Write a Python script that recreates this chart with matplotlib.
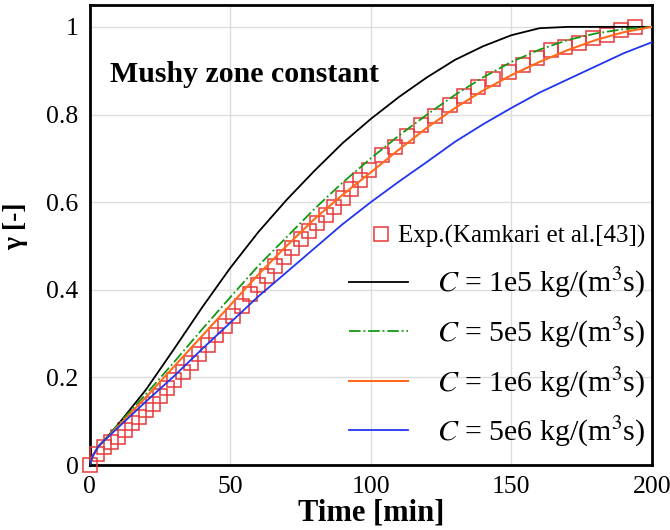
import matplotlib
matplotlib.use('Agg')
import matplotlib.pyplot as plt

plt.rcParams['font.family'] = ['Liberation Serif', 'DejaVu Serif']
plt.rcParams['mathtext.fontset'] = 'stix'

# simulation curves, time in min
t_sim = [0, 1, 3, 5, 10, 20, 30, 40, 50, 60, 70, 80, 90, 100, 110, 120, 130,
         140, 150, 160, 170, 180, 190, 200]
y_c1e5 = [0, 0.02, 0.042, 0.055, 0.092, 0.172, 0.265, 0.36, 0.45, 0.532, 0.605,
          0.672, 0.735, 0.79, 0.84, 0.885, 0.925, 0.956, 0.981, 0.997, 1.0, 1.0,
          1.0, 1.0]
y_c5e5 = [0, 0.02, 0.042, 0.056, 0.092, 0.162, 0.235, 0.31, 0.383, 0.455, 0.52,
          0.585, 0.645, 0.70, 0.752, 0.80, 0.845, 0.885, 0.92, 0.948, 0.97,
          0.985, 0.995, 1.0]
y_c1e6 = [0, 0.02, 0.042, 0.055, 0.088, 0.155, 0.225, 0.295, 0.365, 0.435, 0.50,
          0.562, 0.617, 0.668, 0.72, 0.77, 0.815, 0.855, 0.89, 0.92, 0.947,
          0.97, 0.988, 1.0]
y_c5e6 = [0, 0.02, 0.042, 0.055, 0.085, 0.145, 0.203, 0.265, 0.325, 0.385, 0.44,
          0.495, 0.55, 0.60, 0.647, 0.692, 0.738, 0.778, 0.815, 0.85, 0.88,
          0.91, 0.94, 0.965]

# experiment (Kamkari et al.)
t_exp = [0, 2.5, 5, 7.5, 10, 12.5, 15, 17.5, 20, 22.5, 25, 27.5, 30, 33, 36, 39,
         42, 45, 48, 51, 54, 57, 60, 63, 66, 69, 72, 75, 78, 81, 84, 87, 90, 93,
         96, 99.5, 104, 108.5, 113, 118, 123, 128, 133, 138, 143.5, 149, 154,
         159, 164, 169, 174, 179, 184, 189, 194]
y_exp = [0, 0.025, 0.04, 0.052, 0.065, 0.08, 0.095, 0.11, 0.125, 0.14, 0.157,
         0.175, 0.193, 0.213, 0.233, 0.254, 0.275, 0.296, 0.318, 0.34, 0.364,
         0.39, 0.41, 0.432, 0.455, 0.475, 0.495, 0.515, 0.533, 0.552, 0.571,
         0.59, 0.61, 0.63, 0.65, 0.674, 0.708, 0.725, 0.75, 0.777, 0.797, 0.822,
         0.843, 0.862, 0.88, 0.898, 0.913, 0.928, 0.947, 0.955, 0.963, 0.975,
         0.982, 0.993, 1.0]

labels = ['$C$ = 1e5 kg/(m$^3$s)', '$C$ = 5e5 kg/(m$^3$s)',
          '$C$ = 1e6 kg/(m$^3$s)', '$C$ = 5e6 kg/(m$^3$s)']

fig = plt.figure(figsize=(6.7, 5.3), dpi=100)
ax = fig.add_axes([0.134, 0.1226, 0.839, 0.868])

ax.grid(True, color='#dddddd', linewidth=1)
ax.set_axisbelow(True)

exp, = ax.plot(t_exp, y_exp, 's', mfc='none', mec='#e8383a', ms=9.5, mew=1.1,
               clip_on=False, zorder=3)
l1, = ax.plot(t_sim, y_c1e5, '-', color='black', lw=1.3, zorder=4)
l2, = ax.plot(t_sim, y_c5e5, '-.', color='#139a13', lw=1.3, zorder=4)
l3, = ax.plot(t_sim, y_c1e6, '-', color='#ff6a1c', lw=1.5, zorder=4)
l4, = ax.plot(t_sim, y_c5e6, '-', color='#2036ee', lw=1.3, zorder=4)

ax.set_xlim(0, 200)
ax.set_ylim(0, 1.05)
ax.set_xticks([0, 50, 100, 150, 200])
ax.set_yticks([0, 0.2, 0.4, 0.6, 0.8, 1.0])
ax.set_yticklabels(['0', '0.2', '0.4', '0.6', '0.8', '1'])
ax.tick_params(length=0, labelsize=18.5, pad=8)
for s in ax.spines.values():
    s.set_linewidth(2)

ax.set_xlabel('Time [min]', fontsize=22, fontweight='bold', labelpad=0)
ax.set_ylabel('γ [-]', fontsize=20, fontweight='bold', labelpad=12)
ax.yaxis.set_label_coords(-0.11, 0.52)

ax.text(0.036, 0.848, 'Mushy zone constant', transform=ax.transAxes,
        fontsize=21.5, fontweight='bold', va='center', ha='left')

leg1 = ax.legend([exp], ['Exp.(Kamkari et al.[43])'], loc='upper right',
                 bbox_to_anchor=(0.9875, 0.522), frameon=False, fontsize=18,
                 borderpad=0, borderaxespad=0, handlelength=0.8,
                 handletextpad=0.25)
ax.add_artist(leg1)
ax.legend([l1, l2, l3, l4], labels, loc='upper right',
          bbox_to_anchor=(0.9875, 0.432), frameon=False, fontsize=21.5,
          borderpad=0, borderaxespad=0, handlelength=2.0, handletextpad=0.95,
          labelspacing=0.52)

fig.savefig('out.png', dpi=100)
